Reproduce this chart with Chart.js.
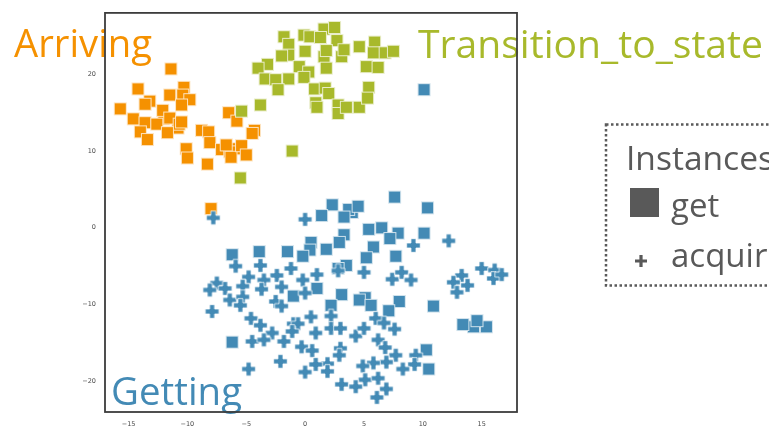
<!DOCTYPE html>
<html>
<head>
<meta charset="utf-8">
<script src="https://cdn.jsdelivr.net/npm/chart.js@4.4.1/dist/chart.umd.min.js"></script>
<style>
  html, body { margin: 0; padding: 0; background: #fff; overflow: hidden; }
  canvas { display: block; }
</style>
</head>
<body>
<canvas id="c" width="769" height="427"></canvas>
<script>
// Embedding coordinates per group
const arrivingX = [-12.0,-10.8,-5.8,-11.4,-14.2,-13.2,-10.3,-11.5,-10.4,-9.8,-10.5,-15.7,-13.6,-12.1,-14.6,-13.6,-12.6,-11.5,-10.7,-10.5,-14.0,-13.4,-11.7,-10.1,-10.0,-8.8,-8.2,-8.1,-8.3,-6.5,-5.8,-4.3,-4.5,-7.1,-6.4,-6.3,-6.7,-5.4,-5.0,-8.0];
const arrivingY = [14.2,13.0,10.3,20.7,18.1,16.5,18.3,17.3,17.3,16.7,16.0,15.5,16.1,15.3,14.2,13.7,13.5,14.3,13.5,13.8,12.5,11.5,12.4,10.3,9.1,12.7,12.5,11.1,8.3,15.0,13.9,12.7,12.3,10.2,9.9,9.2,10.8,10.7,9.5,2.5];

const transitionX = [-1.8,-1.4,-0.1,0.4,1.6,2.5,1.3,2.7,0.0,-1.4,-2.0,1.6,1.8,3.1,3.3,4.6,5.9,5.8,6.8,7.5,5.2,6.2,-3.2,-4.0,-3.4,-2.5,-1.4,-0.5,0.3,-0.1,-2.3,1.8,0.8,1.7,2.0,0.9,1.0,2.8,2.8,3.5,4.6,5.4,5.3,-3.8,-5.4,-1.1,-5.5];
const transitionY = [24.9,23.9,25.1,24.9,25.9,26.1,24.8,24.4,23.0,22.5,22.4,22.3,23.1,22.3,23.2,23.6,24.2,22.8,22.8,23.0,21.0,20.9,21.3,20.8,19.4,19.3,19.4,21.0,20.3,19.6,18.0,20.8,18.1,18.2,17.5,16.3,15.7,16.0,14.9,15.7,15.7,18.3,16.9,16.0,15.2,10.0,6.5];

// "get" instances (squares) of the Getting group
const getX = [4.0,3.7,14.3,2.3,4.5,10.4,7.6,10.1,1.4,3.3,5.4,6.5,7.9,7.2,10.1,3.3,2.9,0.5,0.4,-0.2,1.8,5.8,5.2,7.7,-6.2,-3.9,-1.5,3.5,2.8,1.0,-1.0,3.1,5.1,4.6,5.6,8.0,7.1,2.2,10.9,13.4,15.4,14.6,-6.2,10.3,10.5];
const getY = [2.0,2.4,-12.9,3.0,2.8,2.6,4.0,18.0,1.6,1.4,-0.2,0.0,-0.7,-1.4,-0.7,-0.9,-1.9,-1.9,-2.9,-3.7,-2.8,-2.5,-3.9,-3.7,-3.5,-3.1,-3.1,-4.9,-5.3,-7.9,-8.9,-8.7,-9.1,-9.4,-10.1,-9.6,-10.8,-10.1,-10.2,-12.6,-12.9,-12.1,-14.9,-15.9,-18.4];

// "acquire" instances (plus markers) of the Getting group
const acquireX = [0.0,-7.8,12.2,9.2,-5.9,-3.8,-1.2,-2.4,-4.8,-3.5,-7.5,-6.8,-8.1,-5.3,-3.7,-2.0,-0.2,1.0,2.8,5.0,7.4,8.2,9.0,0.0,-6.4,-5.3,-5.5,-2.5,-2.0,-7.9,-4.6,-3.8,-2.8,-1.8,-4.5,-3.5,-1.0,-0.6,-1.1,0.5,2.2,2.2,3.0,0.9,4.3,5.0,6.0,6.7,7.6,6.2,6.8,-0.3,0.6,3.0,2.9,7.7,9.4,9.3,8.3,6.9,5.8,4.9,1.9,0.9,1.9,0.0,-2.1,-4.8,5.1,6.2,3.1,4.3,6.9,6.1,13.3,12.6,13.8,12.9,15.0,16.1,16.0,16.7];
const acquireY = [1.1,1.3,-1.7,-2.3,-5.0,-4.9,-5.3,-6.2,-6.4,-6.8,-7.2,-7.9,-8.1,-7.6,-8.0,-7.7,-6.8,-6.1,-5.6,-5.8,-6.7,-5.8,-6.8,-8.5,-9.4,-9.0,-10.1,-9.6,-10.2,-10.9,-11.8,-12.7,-13.7,-14.8,-14.8,-14.6,-12.5,-12.5,-13.5,-11.6,-11.5,-13.1,-13.1,-13.7,-14.1,-13.1,-11.8,-12.4,-13.2,-14.6,-15.6,-15.5,-16.0,-15.7,-16.6,-16.6,-16.6,-17.8,-18.4,-17.5,-17.6,-18.0,-17.7,-17.8,-18.7,-18.8,-17.4,-18.4,-19.8,-19.6,-20.4,-20.7,-21.0,-22.1,-6.2,-7.1,-7.5,-8.4,-5.3,-5.5,-6.6,-6.1];

const xTicks = [-15, -10, -5, 0, 5, 10, 15];
const yTicks = [-20, -10, 0, 10, 20];

const groupNames = ['Arriving', 'Transition_to_state', 'Getting'];
const legendTitle = 'Instances';
const legendEntries = ['get', 'acquire'];

const COLORS = { Arriving: '#F59100', Transition_to_state: '#A8B92B', Getting: '#438AB5' };
const EDGE = 'rgba(255,255,255,0.75)';

function squareMarker(color) {
  const c = document.createElement('canvas');
  c.width = c.height = 15;
  const g = c.getContext('2d');
  g.fillStyle = color;
  g.fillRect(1, 1, 13, 13);
  g.strokeStyle = EDGE;
  g.lineWidth = 1;
  g.strokeRect(1.5, 1.5, 12, 12);
  return c;
}

function plusPath(g, cx, cy, a, w) {
  g.beginPath();
  g.moveTo(cx - w, cy - a); g.lineTo(cx + w, cy - a); g.lineTo(cx + w, cy - w);
  g.lineTo(cx + a, cy - w); g.lineTo(cx + a, cy + w); g.lineTo(cx + w, cy + w);
  g.lineTo(cx + w, cy + a); g.lineTo(cx - w, cy + a); g.lineTo(cx - w, cy + w);
  g.lineTo(cx - a, cy + w); g.lineTo(cx - a, cy - w); g.lineTo(cx - w, cy - w);
  g.closePath();
}

function plusMarker(color) {
  const c = document.createElement('canvas');
  c.width = c.height = 17;
  const g = c.getContext('2d');
  plusPath(g, 8.5, 8.5, 6.8, 2.5);
  g.fillStyle = color;
  g.fill();
  g.strokeStyle = EDGE;
  g.lineWidth = 1;
  g.stroke();
  return c;
}

const zip = (xs, ys) => xs.map((x, i) => ({ x, y: ys[i] }));

function fmt(v) {
  return v < 0 ? '\u2212' + Math.abs(v) : String(v);
}

// draws text left-aligned at (x, y), stretched horizontally to the given width
function fitText(ctx, text, x, y, width) {
  const w = ctx.measureText(text).width;
  ctx.save();
  ctx.translate(x, y);
  ctx.scale(width / w, 1);
  ctx.fillText(text, 0, 0);
  ctx.restore();
}

// Group names, legend box and the axes frame
const overlay = {
  id: 'overlay',
  afterDraw(chart) {
    const ctx = chart.ctx;
    const a = chart.chartArea;
    ctx.save();

    ctx.font = '38px "Open Sans"';
    ctx.textBaseline = 'alphabetic';
    ctx.textAlign = 'left';
    const spots = {
      Arriving: [14, 57, 138],
      Transition_to_state: [418, 58, 345],
      Getting: [111, 405, 131]
    };
    for (const name of groupNames) {
      const [x, y, w] = spots[name];
      ctx.fillStyle = COLORS[name];
      fitText(ctx, name, x, y, w);
    }

    // frame
    ctx.strokeStyle = '#3c3c3c';
    ctx.lineWidth = 1.8;
    ctx.strokeRect(a.left, a.top, a.right - a.left, a.bottom - a.top);

    // legend
    ctx.strokeStyle = '#5a5a5a';
    ctx.lineWidth = 2.5;
    ctx.setLineDash([2.5, 2.5]);
    ctx.strokeRect(606, 124.5, 220, 161);
    ctx.setLineDash([]);

    ctx.fillStyle = '#595959';
    ctx.font = '33px "Open Sans"';
    fitText(ctx, legendTitle, 626, 170, 148);
    ctx.fillRect(630, 188, 29, 29);
    ctx.fillText(legendEntries[0], 671, 217);
    ctx.fillText(legendEntries[1], 671, 267);
    plusPath(ctx, 641, 261, 6, 1.6);
    ctx.fill();

    ctx.restore();
  }
};

new Chart(document.getElementById('c'), {
  type: 'scatter',
  data: {
    datasets: [
      { label: 'acquire', data: zip(acquireX, acquireY), pointStyle: plusMarker(COLORS.Getting), pointRadius: 7 },
      { label: 'get', data: zip(getX, getY), pointStyle: squareMarker(COLORS.Getting), pointRadius: 7 },
      { label: 'Transition_to_state', data: zip(transitionX, transitionY), pointStyle: squareMarker(COLORS.Transition_to_state), pointRadius: 7 },
      { label: 'Arriving', data: zip(arrivingX, arrivingY), pointStyle: squareMarker(COLORS.Arriving), pointRadius: 7 }
    ]
  },
  options: {
    responsive: false,
    animation: false,
    events: [],
    layout: { padding: { left: 0, right: 252, top: 10, bottom: 0 } },
    plugins: { legend: { display: false }, tooltip: { enabled: false } },
    scales: {
      x: {
        type: 'linear', min: -17, max: 18,
        grid: { display: false, drawTicks: false, tickLength: 0 },
        border: { display: false },
        afterBuildTicks: s => { s.ticks = xTicks.map(v => ({ value: v })); },
        afterFit: s => { s.height = 15; },
        ticks: { padding: 8, autoSkip: false, maxRotation: 0, color: '#4a4a4a',
                 font: { family: 'DejaVu Sans', size: 6.5 }, callback: v => fmt(v) }
      },
      y: {
        type: 'linear', min: -24, max: 28,
        grid: { display: false, drawTicks: false, tickLength: 0 },
        border: { display: false },
        afterBuildTicks: s => { s.ticks = yTicks.map(v => ({ value: v })); },
        afterFit: s => { s.width = 105; },
        ticks: { padding: 9, autoSkip: false, color: '#4a4a4a',
                 font: { family: 'DejaVu Sans', size: 6.5 }, callback: v => fmt(v) }
      }
    }
  },
  plugins: [overlay]
});
</script>
</body>
</html>
